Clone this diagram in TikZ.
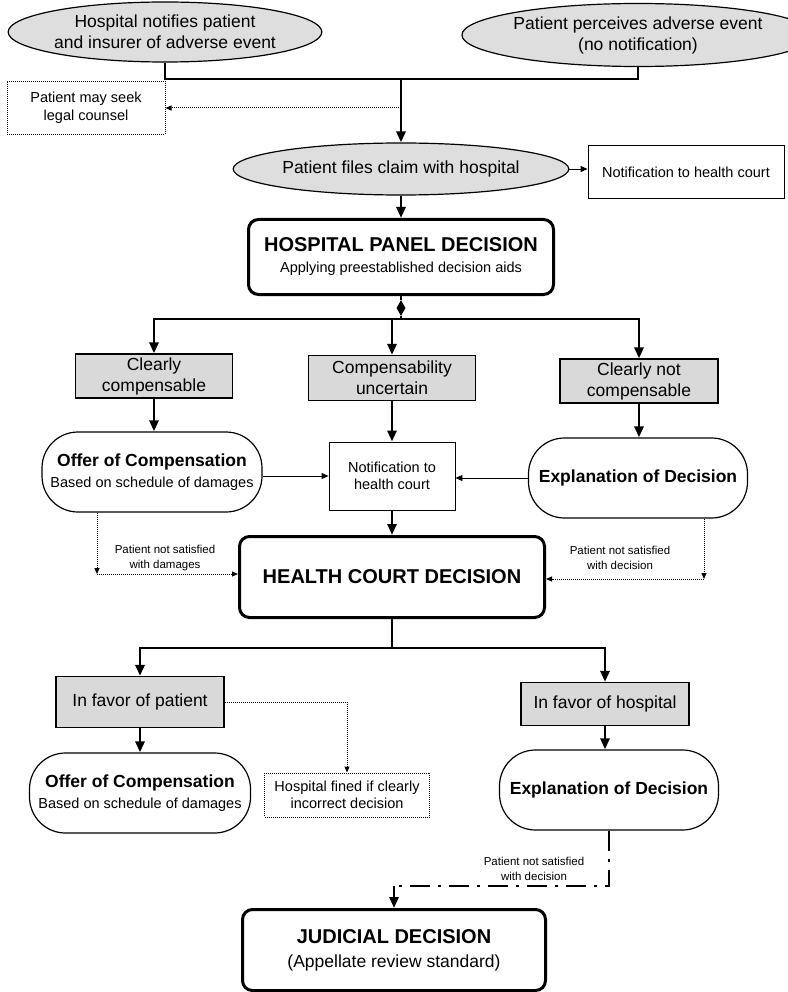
\documentclass[tikz,border=0pt]{standalone}
\usepackage{fontspec}
\setmainfont{Liberation Sans}
\usetikzlibrary{arrows.meta,shapes.geometric}
\begin{document}
\begin{tikzpicture}[x=1pt,y=-1pt,
  every node/.style={align=center, inner sep=0pt, font=\fontsize{17.5}{21}\selectfont},
  ell/.style={ellipse, draw, fill=black!13, line width=1.2pt},
  grayb/.style={rectangle, draw, fill=black!15, line width=1.2pt},
  plainb/.style={rectangle, draw, line width=0.9pt},
  dotb/.style={rectangle, draw, densely dotted, line width=1pt},
  stad/.style={rectangle, draw, rounded corners=36pt, line width=1.2pt},
  bigb/.style={rectangle, draw, rounded corners=10pt, line width=3pt},
  main/.style={line width=2.8pt, -{Triangle[length=11pt,width=9pt]}},
  thick2/.style={line width=2.8pt},
  thin/.style={line width=0.9pt, -{Triangle[length=7pt,width=6pt]}},
  dotarr/.style={densely dotted, line width=1pt, -{Triangle[length=6pt,width=5pt]}},
  small/.style={font=\fontsize{11.5}{14.5}\selectfont},
  mid/.style={font=\fontsize{14.5}{17.5}\selectfont}
]
\useasboundingbox (0,0) rectangle (787,992);
\fill[white] (0,0) rectangle (787,992);

% nodes
\node[ell, minimum width=305pt, minimum height=60pt] (e1) at (165,32) {Hospital notifies patient\\and insurer of adverse event};
\node[ell, minimum width=298pt, minimum height=63pt] (e2) at (638,35) {Patient perceives adverse event\\(no notification)};
\node[dotb, mid, minimum width=158pt, minimum height=53pt] (legal) at (86,108) {Patient may seek\\legal counsel};
\node[ell, minimum width=307pt, minimum height=52pt] (e3) at (401,169) {Patient files claim with hospital};
\node[plainb, mid, minimum width=196pt, minimum height=53pt] (nhc) at (686,172) {Notification to health court};
\node[bigb, minimum width=305pt, minimum height=75pt] (hp) at (401,257) {{\bfseries\fontsize{20}{24}\selectfont HOSPITAL PANEL DECISION}\\{\fontsize{14.5}{17}\selectfont Applying preestablished decision aids}};

\node[grayb, minimum width=157pt, minimum height=44pt] (cc) at (154,376) {Clearly\\compensable};
\node[grayb, minimum width=167pt, minimum height=45pt] (cu) at (392,378) {Compensability\\uncertain};
\node[grayb, minimum width=158pt, minimum height=44pt] (cn) at (639,381) {Clearly not\\compensable};

\node[stad, minimum width=220pt, minimum height=80pt] (oc1) at (152,472) {\textbf{Offer of Compensation}\\{\fontsize{14.5}{17}\selectfont Based on schedule of damages}};
\node[plainb, mid, minimum width=126pt, minimum height=68pt] (nm) at (392,476) {Notification to\\health court};
\node[stad, minimum width=219pt, minimum height=80pt] (ex1) at (638,478) {\textbf{Explanation of Decision}};

\node[bigb, minimum width=305pt, minimum height=81pt] (hc) at (392,577) {\bfseries\fontsize{20}{24}\selectfont HEALTH COURT DECISION};
\node[small] (l1) at (165,558) {Patient not satisfied\\with damages};
\node[small] (l2) at (620,558) {Patient not satisfied\\with decision};

\node[grayb, minimum width=168pt, minimum height=51pt] (fp) at (140,702) {In favor of patient};
\node[grayb, minimum width=168pt, minimum height=43pt] (fh) at (605,704) {In favor of hospital};
\node[dotb, mid, minimum width=165pt, minimum height=44pt] (fine) at (347,795) {Hospital fined if clearly\\incorrect decision};
\node[stad, minimum width=221pt, minimum height=80pt] (oc2) at (140,793) {\textbf{Offer of Compensation}\\{\fontsize{14.5}{17}\selectfont Based on schedule of damages}};
\node[stad, minimum width=219pt, minimum height=80pt] (ex2) at (609,790) {\textbf{Explanation of Decision}};
\node[small] (l3) at (534,869) {Patient not satisfied\\with decision};
\node[bigb, minimum width=303pt, minimum height=81pt] (jd) at (394,950) {{\bfseries\fontsize{20}{24}\selectfont JUDICIAL DECISION}\\[3pt]{(Appellate review standard)}};

% connectors top
\coordinate (jn) at (401,79);
\draw[line width=1.3pt] (e1.south) |- (jn);
\draw[line width=1.3pt] (e2.south) |- (jn);
\draw[main] (jn) -- (e3.north);
\coordinate (ls) at (401,108);
\draw[dotarr] (ls) -- (legal.east);
\draw[thin] (e3.east) -- (e3.east -| nhc.west);
\draw[main] (e3.south) -- (hp.north);

% branching after hospital panel
\node[diamond, fill=black, minimum width=9pt, minimum height=16pt] (dia) at (401,308) {};
\draw[thick2] (hp.south) -- (dia.north);
\coordinate (br) at (401,319);
\draw[thick2] (dia.south) -- (br);
\draw[main] (br) -| (cc.north);
\draw[main] (br) -| (cn.north);
\draw[main] (br -| cu.north) -- (cu.north);

\draw[main] (cc.south) -- (cc.south |- oc1.north);
\draw[main] (cu.south) -- (cu.south |- nm.north);
\draw[main] (cn.south) -- (cn.south |- ex1.north);
\draw[thin] (oc1.east |- nm.west) -- (nm.west);
\draw[thin] (ex1.west) -- (ex1.west -| nm.east);
\draw[main] (nm.south) -- (hc.north);

% dotted to health court
\coordinate (dl) at (97,574);
\draw[dotarr] (oc1.south -| dl) -- (dl);
\draw[dotarr] (dl) -- (dl -| hc.west);
\coordinate (dr) at (704,579);
\draw[dotarr] (ex1.south -| dr) -- (dr);
\draw[dotarr] (dr) -- (dr -| hc.east);

% after health court
\coordinate (b2) at (392,648);
\draw[thick2] (hc.south) -- (b2);
\draw[main] (b2) -| (fp.north);
\draw[main] (b2) -| (fh.north);
\draw[main] (fp.south) -- (fp.south |- oc2.north);
\draw[main] (fh.south) -- (fh.south |- ex2.north);
\draw[dotarr] (fp.east) -| (fine.north);

% dash-dot to judicial
\coordinate (dd) at (394,886);
\draw[line width=2.8pt, dash pattern=on 20pt off 8pt on 3pt off 8pt] (ex2.south) |- (dd);
\draw[main] (dd) -- (jd.north);
\end{tikzpicture}
\end{document}
